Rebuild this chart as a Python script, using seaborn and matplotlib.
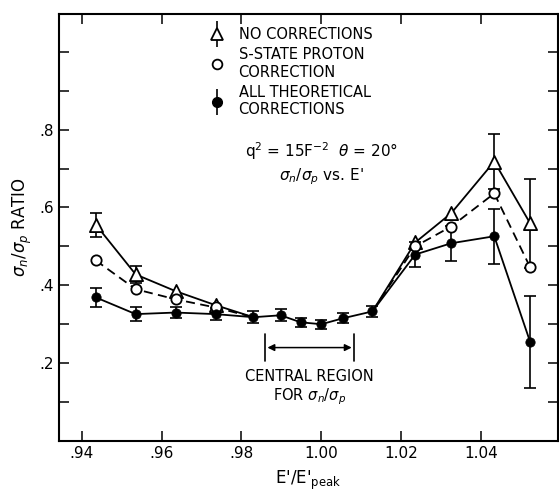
import numpy as np
import pandas as pd
import seaborn as sns
import matplotlib.pyplot as plt
from matplotlib.lines import Line2D
from matplotlib.container import ErrorbarContainer
from matplotlib.legend_handler import HandlerErrorbar

# E'/E'peak positions of the measured points
e_ratio = [0.9435, 0.9535, 0.9635, 0.9735, 0.983, 0.9898, 0.9948, 1.000, 1.0053, 1.0128,
           1.0235, 1.0325, 1.0433, 1.0523]
nan = np.nan
# no corrections (triangles)
no_corr = [0.556, 0.428, 0.385, 0.349, 0.318, nan, nan, nan, nan, 0.333,
           0.510, 0.585, 0.718, 0.559]
no_corr_err = [0.031, 0.022, nan, nan, nan, nan, nan, nan, nan, nan,
               nan, nan, 0.07, 0.115]
# s-state proton correction (open circles)
s_state = [0.464, 0.390, 0.364, 0.343, 0.318, nan, nan, nan, nan, 0.333,
           0.500, 0.551, 0.636, 0.446]
# all theoretical corrections (filled circles)
all_corr = [0.369, 0.326, 0.330, 0.326, 0.318, 0.323, 0.305, 0.300, 0.315, 0.333,
            0.479, 0.508, 0.526, 0.254]
all_corr_err = [0.025, 0.017, 0.015, 0.015, 0.015, 0.015, 0.012, 0.012, 0.013, 0.015,
                0.033, 0.045, 0.07, 0.118]

central_lo, central_hi = 0.9858, 1.0083

sns.set_style("ticks")
plt.rcParams['font.family'] = ['DejaVu Sans']
for k in ['text.color', 'axes.labelcolor', 'xtick.color', 'ytick.color', 'axes.edgecolor']:
    plt.rcParams[k] = 'black'

fig = plt.figure(figsize=(5.59, 5.0), dpi=100)
ax = fig.add_axes([0.1055, 0.118, 0.893, 0.854])

df = pd.DataFrame({'x': e_ratio, 'tri': no_corr, 'open': s_state, 'fill': all_corr})
x = np.array(e_ratio)
mark = np.ones(len(x), bool)
mark[4:10] = False  # series merge with filled points here

# lines (NaN breaks them)
ax.plot(x, no_corr, color='black', lw=1.3, zorder=2)
ax.plot(x, s_state, color='black', lw=1.3, ls=(0, (5, 3)), zorder=2)
ax.plot(x, all_corr, color='black', lw=1.3, zorder=2)

# error bars
ax.errorbar(x, no_corr, yerr=no_corr_err, fmt='none', ecolor='black', elinewidth=1.2,
            capsize=4, capthick=1.2, zorder=3)
ax.errorbar(x, all_corr, yerr=all_corr_err, fmt='none', ecolor='black', elinewidth=1.2,
            capsize=4, capthick=1.2, zorder=3)

# markers
sns.scatterplot(data=df[mark], x='x', y='tri', marker='^', s=90, facecolor='white',
                edgecolor='black', linewidth=1.3, ax=ax, zorder=4)
sns.scatterplot(data=df[mark], x='x', y='open', marker='o', s=55, facecolor='white',
                edgecolor='black', linewidth=1.3, ax=ax, zorder=4)
sns.scatterplot(data=df, x='x', y='fill', marker='o', s=45, color='black',
                edgecolor='black', ax=ax, zorder=5)

ax.set_xlim(0.9343, 1.0593)
ax.set_ylim(0, 1.097)
ax.set_xticks([0.94, 0.96, 0.98, 1.00, 1.02, 1.04])
ax.set_xticklabels(['.94', '.96', '.98', '1.00', '1.02', '1.04'], fontsize=11)
ax.set_yticks([0.2, 0.4, 0.6, 0.8])
ax.set_yticklabels(['.2', '.4', '.6', '.8'], fontsize=11)
ax.set_yticks(np.arange(0.1, 1.05, 0.1), minor=True)
ax.tick_params(axis='both', which='both', direction='in', top=True, right=True,
               length=7, width=1.1)
ax.tick_params(axis='y', which='minor', length=7)
for s in ax.spines.values():
    s.set_linewidth(1.5)

ax.set_xlabel("E'/E'$_{\\rm peak}$", fontsize=12, labelpad=6)
ax.set_ylabel("$\\sigma_n/\\sigma_p$ RATIO", fontsize=12, labelpad=4)

# legend
h_tri = ax.errorbar([], [], yerr=[], fmt='^', mfc='white', mec='black', ms=9, mew=1.3,
                    ecolor='black', elinewidth=1.2, capsize=4, color='black')
h_open = Line2D([], [], ls='none', marker='o', mfc='white', mec='black', ms=7, mew=1.3)
h_fill = ax.errorbar([], [], yerr=[], fmt='o', color='black', ms=7, elinewidth=1.2, capsize=4)
ax.legend([h_tri, h_open, h_fill],
          ['NO CORRECTIONS', 'S-STATE PROTON\nCORRECTION', 'ALL THEORETICAL\nCORRECTIONS'],
          loc='upper left', bbox_to_anchor=(0.275, 1.0), frameon=False, fontsize=10.5,
          handlelength=1.0, handletextpad=1.0, labelspacing=0.35,
          handler_map={ErrorbarContainer: HandlerErrorbar(yerr_size=0.9)})

ax.text(1.000, 0.745, "q$^2$ = 15F$^{-2}$  $\\theta$ = 20°", ha='center', va='center', fontsize=11)
ax.text(1.000, 0.68, "$\\sigma_n/\\sigma_p$ vs. E'", ha='center', va='center', fontsize=11)

# central region marker
ax.plot([central_lo, central_lo], [0.205, 0.274], color='black', lw=1.2)
ax.plot([central_hi, central_hi], [0.205, 0.274], color='black', lw=1.2)
ax.annotate('', xy=(central_lo, 0.24), xytext=(central_hi, 0.24),
            arrowprops=dict(arrowstyle='<|-|>', color='black', lw=1.1, mutation_scale=10))
ax.text(0.997, 0.165, 'CENTRAL REGION', ha='center', va='center', fontsize=10.5)
ax.text(0.997, 0.115, 'FOR $\\sigma_n/\\sigma_p$', ha='center', va='center', fontsize=10.5)

fig.savefig('out.png', dpi=100)
